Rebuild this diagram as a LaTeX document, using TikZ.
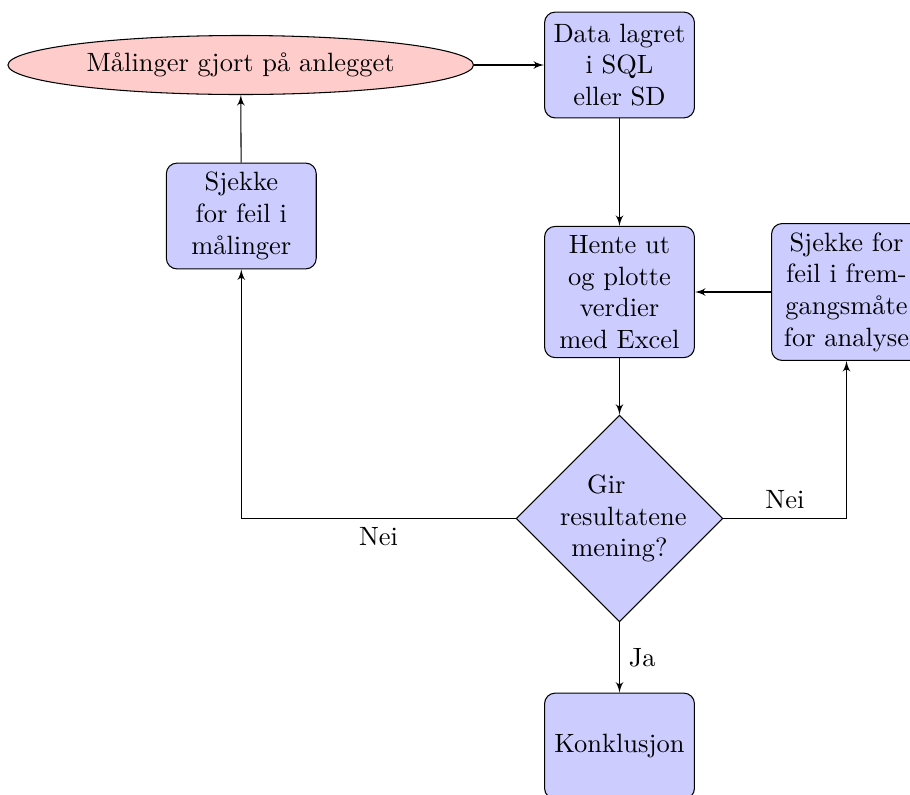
\documentclass[tikz,border=0pt]{standalone}
\usetikzlibrary{shapes.geometric,arrows}
\begin{document}
\begin{tikzpicture}[x=0.3781pt,y=-0.3781pt,
  block/.style={rectangle, draw, fill=blue!20, text width=5em, align=center, rounded corners, minimum height=4em},
  decision/.style={diamond, draw, fill=blue!20, text width=4.5em, align=center, inner sep=0pt},
  cloud/.style={draw, ellipse, fill=red!20, minimum height=2em, minimum width=176pt},
  line/.style={draw, -latex'}]
\useasboundingbox (0,0) rectangle (910,794);
\clip (0,0) rectangle (910,794);
\node[cloud] (maal) at (240.7,65) {Målinger gjort på anlegget};
\node[block] (data) at (619.5,65) {Data lagret\\ i SQL\\ eller SD};
\node[block] (hente) at (619.5,292) {Hente ut\\ og plotte\\ verdier\\ med Excel};
\node[block] (frem) at (846.5,292) {Sjekke for\\ feil i frem-\\gangsmåte\\ for analyse};
\node[decision] (dec) at (619.5,518.5) {Gir\rule{10pt}{0pt}\\ resultatene\\ mening?};
\node[block] (konk) at (619.5,746) {Konklusjon};
\node[block] (sjekk) at (241.3,216) {Sjekke\\ for feil i\\ målinger};
\path[line] (maal) -- (data);
\path[line] (data) -- (hente);
\path[line] (hente) -- (dec);
\path[line] (dec) -| node[pos=0.25, below] {Nei} (sjekk);
\path[line] (sjekk) -- (maal);
\path[line] (dec) -| node[pos=0.25, above] {Nei} (frem);
\path[line] (frem) -- (hente);
\path[line] (dec) -- node[right] {Ja} (konk);
\end{tikzpicture}
\end{document}
